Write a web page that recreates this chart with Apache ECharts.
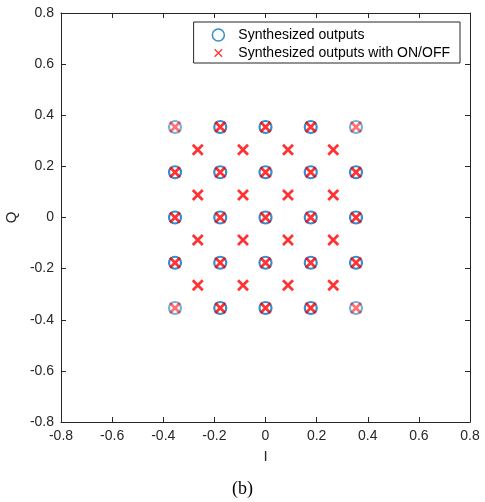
<!DOCTYPE html>
<html>
<head>
<meta charset="utf-8">
<script src="https://cdn.jsdelivr.net/npm/echarts@6/dist/echarts.min.js"></script>
<style>html,body{margin:0;padding:0;background:#fff}#c{width:485px;height:502px}</style>
</head>
<body>
<div id="c"></div>
<script>
// Values
const axisMin = -0.8, axisMax = 0.8, axisStep = 0.2;
const outerLevels = [-0.354, -0.177, 0, 0.177, 0.354];   // 5x5 grid (circles and crosses)
const innerLevels = [-0.265, -0.088, 0.088, 0.265];      // 4x4 grid (crosses only)
const seriesNames = ['Synthesized outputs', 'Synthesized outputs with ON/OFF'];

function grid(levels) {
  const pts = [];
  for (const q of levels) for (const i of levels) pts.push([i, q]);
  return pts;
}
function isCorner(p) {
  return Math.abs(p[0]) > 0.3 && Math.abs(p[1]) > 0.3;
}
function toItems(pts) {
  return pts.map(p => isCorner(p) ? { value: p, itemStyle: { opacity: 0.55 } } : { value: p });
}

const circlePts = grid(outerLevels);
const crossPts = grid(outerLevels).concat(grid(innerLevels));

const textColor = '#262626';
const font = 'Liberation Sans, Arial, sans-serif';
const crossPath = 'path://M0,0L10,10M10,0L0,10';
const crossLegendPath = 'path://M-3,-3L-3,-3M0,0L10,10M10,0L0,10M13,13L13,13';

function axisCommon(showLabel) {
  return {
    type: 'value', min: axisMin, max: axisMax, interval: axisStep,
    splitLine: { show: false },
    axisLine: { show: true, onZero: false, lineStyle: { color: textColor, width: 1 } },
    axisTick: { show: true, inside: true, length: 5, lineStyle: { color: textColor } },
    axisLabel: { show: showLabel, color: textColor, fontFamily: font, fontSize: 14, margin: 7,
      formatter: v => (Math.abs(v) < 1e-9 ? '0' : String(Math.round(v * 10) / 10)) }
  };
}

const chart = echarts.init(document.getElementById('c'), null, { renderer: 'canvas' });
chart.setOption({
  animation: false,
  backgroundColor: '#fff',
  title: {
    text: '(b)', left: 'center', top: 475,
    textStyle: { fontFamily: 'Liberation Serif, Times New Roman, serif', fontSize: 18, fontWeight: 'normal', color: '#000' }
  },
  grid: { left: 61, right: 15, top: 13, bottom: 80, containLabel: false, outerBoundsMode: 'none' },
  xAxis: [
    Object.assign(axisCommon(true), { position: 'bottom', name: 'I', nameLocation: 'middle', nameGap: 27,
      nameTextStyle: { color: textColor, fontFamily: font, fontSize: 15 } }),
    Object.assign(axisCommon(false), { position: 'top' })
  ],
  yAxis: [
    Object.assign(axisCommon(true), { position: 'left', name: 'Q', nameLocation: 'middle', nameGap: 39,
      nameTextStyle: { color: textColor, fontFamily: font, fontSize: 15 } }),
    Object.assign(axisCommon(false), { position: 'right' })
  ],
  legend: {
    orient: 'vertical', right: 25, top: 22,
    backgroundColor: '#fff', borderColor: textColor, borderWidth: 1,
    padding: [6, 10, 3, 18], itemGap: 4, itemWidth: 12, itemHeight: 14,
    textStyle: { color: '#000', fontFamily: font, fontSize: 14, padding: [0, 0, 0, 9] },
    data: [
      { name: seriesNames[0], icon: 'circle', itemStyle: { color: 'rgba(0,0,0,0)', borderColor: '#0072BD', borderWidth: 1.5 } },
      { name: seriesNames[1], icon: crossLegendPath, itemStyle: { color: 'rgba(0,0,0,0)', borderColor: '#FF0000', borderWidth: 1.3 } }
    ]
  },
  series: [
    {
      name: seriesNames[0], type: 'scatter', symbol: 'circle', symbolSize: 12,
      itemStyle: { color: 'rgba(0,0,0,0)', borderColor: '#0072BD', borderWidth: 2.2 },
      data: toItems(circlePts), z: 2
    },
    {
      name: seriesNames[1], type: 'scatter', symbol: crossPath, symbolSize: 10,
      itemStyle: { color: 'rgba(0,0,0,0)', borderColor: '#FF0000', borderWidth: 2.8 },
      data: toItems(crossPts), z: 3
    }
  ]
});
</script>
</body>
</html>
